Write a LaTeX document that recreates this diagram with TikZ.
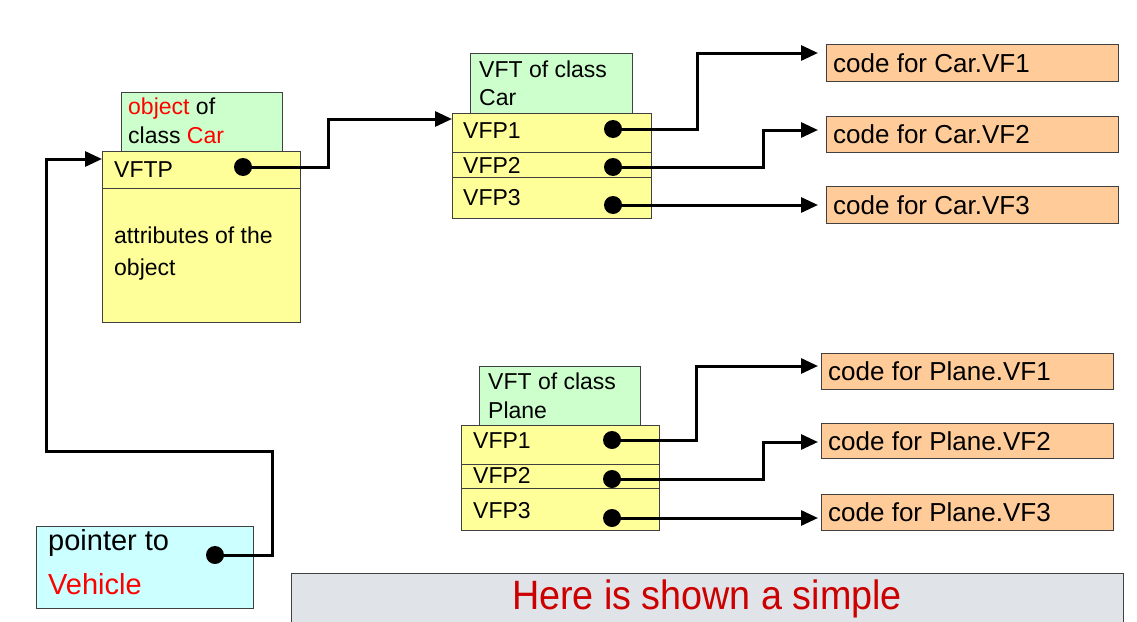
\documentclass[tikz,border=0pt]{standalone}
\usepackage{fontspec}
\setmainfont{Liberation Sans}
\usetikzlibrary{arrows.meta,calc}
\definecolor{hdgreen}{HTML}{CCFFCC}
\definecolor{tabyellow}{HTML}{FFFF99}
\definecolor{codeorange}{HTML}{FFCC99}
\definecolor{ptrcyan}{HTML}{CCFFFF}
\definecolor{slidegray}{HTML}{E0E4E8}
\definecolor{darkred}{HTML}{CC0000}
\definecolor{brdr}{HTML}{404040}
\begin{document}
\begin{tikzpicture}[x=1pt,y=-1pt,
 box/.style={draw=brdr, line width=0.9pt, inner sep=0pt, anchor=north west},
 txt/.style={anchor=base west, inner sep=0pt, font=\fontsize{23}{27}\selectfont},
 ctxt/.style={anchor=base west, inner sep=0pt, font=\fontsize{26}{30}\selectfont},
 ptxt/.style={anchor=base west, inner sep=0pt, font=\fontsize{29}{33}\selectfont},
 dot/.style={circle, fill=black, inner sep=0pt, minimum size=18pt},
 conn/.style={line width=3pt, -{Triangle[length=17pt,width=15pt]}},
 divider/.style={draw=brdr, line width=0.9pt}
]
\useasboundingbox (0,0) rectangle (1137,621);

% ---- object of class Car
\node[box, fill=hdgreen, minimum width=161pt, minimum height=59pt] (objhead) at (121,92) {};
\node[box, fill=tabyellow, minimum width=198pt, minimum height=171pt] (objbox) at (102,151) {};
\draw[divider] ($(objbox.north west)+(0,37)$) -- ($(objbox.north east)+(0,37)$);
\node[txt] (objt1) at (128,114) {\textcolor{red}{object} of};
\node[txt] (objt2) at (128,143) {class \textcolor{red}{Car}};
\node[txt] (vftp) at (114,177) {VFTP};
\node[txt] (attr1) at (114,243) {attributes of the};
\node[txt] (attr2) at (114,275) {object};
\node[dot] (dvftp) at (243,167) {};

% ---- VFT of class Car
\node[box, fill=hdgreen, minimum width=162pt, minimum height=60pt] (carhead) at (470,53) {};
\node[box, fill=tabyellow, minimum width=199pt, minimum height=105pt] (cartab) at (452,113) {};
\draw[divider] ($(cartab.north west)+(0,39)$) -- ($(cartab.north east)+(0,39)$);
\draw[divider] ($(cartab.north west)+(0,64)$) -- ($(cartab.north east)+(0,64)$);
\node[txt] (carh1) at (479,77) {VFT of class};
\node[txt] (carh2) at (479,105) {Car};
\node[txt] (cvfp1) at (463,138) {VFP1};
\node[txt] (cvfp2) at (463,173) {VFP2};
\node[txt] (cvfp3) at (463,205) {VFP3};
\node[dot] (dc1) at (613,129) {};
\node[dot] (dc2) at (613,167) {};
\node[dot] (dc3) at (613,205) {};

% ---- VFT of class Plane
\node[box, fill=hdgreen, minimum width=161pt, minimum height=59pt] (plhead) at (479,366) {};
\node[box, fill=tabyellow, minimum width=198pt, minimum height=105pt] (pltab) at (461,425) {};
\draw[divider] ($(pltab.north west)+(0,39)$) -- ($(pltab.north east)+(0,39)$);
\draw[divider] ($(pltab.north west)+(0,63)$) -- ($(pltab.north east)+(0,63)$);
\node[txt] (plh1) at (488,389) {VFT of class};
\node[txt] (plh2) at (488,418) {Plane};
\node[txt] (pvfp1) at (473,448) {VFP1};
\node[txt] (pvfp2) at (473,483) {VFP2};
\node[txt] (pvfp3) at (473,518) {VFP3};
\node[dot] (dp1) at (612,440) {};
\node[dot] (dp2) at (612,479) {};
\node[dot] (dp3) at (612,518) {};

% ---- code boxes Car
\node[box, fill=codeorange, minimum width=292pt, minimum height=37pt] (cc1) at (826,44) {};
\node[box, fill=codeorange, minimum width=292pt, minimum height=36pt] (cc2) at (826,116) {};
\node[box, fill=codeorange, minimum width=292pt, minimum height=37pt] (cc3) at (826,186) {};
\node[ctxt] (cct1) at (833,72) {code for Car.VF1};
\node[ctxt] (cct2) at (833,143) {code for Car.VF2};
\node[ctxt] (cct3) at (833,214) {code for Car.VF3};

% ---- code boxes Plane
\node[box, fill=codeorange, minimum width=292pt, minimum height=36pt] (pc1) at (821,353) {};
\node[box, fill=codeorange, minimum width=292pt, minimum height=35pt] (pc2) at (821,423) {};
\node[box, fill=codeorange, minimum width=292pt, minimum height=36pt] (pc3) at (821,494) {};
\node[ctxt] (pct1) at (828,380) {code for Plane.VF1};
\node[ctxt] (pct2) at (828,450) {code for Plane.VF2};
\node[ctxt] (pct3) at (828,521) {code for Plane.VF3};

% ---- pointer to Vehicle
\node[box, fill=ptrcyan, minimum width=217pt, minimum height=82pt] (ptr) at (36,526) {};
\node[ptxt] (ptrt1) at (48,550) {pointer to};
\node[ptxt] (ptrt2) at (48,594) {\textcolor{red}{Vehicle}};
\node[dot] (dptr) at (215,555) {};

% ---- bottom slide box
\node[box, fill=slidegray, minimum width=832pt, minimum height=60pt] (slide) at (291,573) {};
\node[anchor=base, inner sep=0pt, text=darkred] (slidet) at (707,609) {\scalebox{0.92}[1]{\fontsize{41}{46}\selectfont Here is shown a simple}};

% ---- connectors
\draw[conn] (dvftp.center) -- (328,167) |- ($(cartab.north west)+(0,6)$);
\draw[conn] (dptr.center) -- (272,555) -- (272,451) -- (46,451) |- ($(objbox.north west)+(0,8)$);

\draw[conn] (dc1.center) -- (697,129) |- ($(cc1.north west)+(-8,9)$);
\draw[conn] (dc2.center) -- (763,167) |- ($(cc2.north west)+(-8,14)$);
\draw[conn] (dc3.center) -- ($(cc3.north west)+(-8,19)$);

\draw[conn] (dp1.center) -- (696,440) |- ($(pc1.north west)+(-3,13)$);
\draw[conn] (dp2.center) -- (763,479) |- ($(pc2.north west)+(-3,19)$);
\draw[conn] (dp3.center) -- ($(pc3.north west)+(-3,24)$);
\end{tikzpicture}
\end{document}
